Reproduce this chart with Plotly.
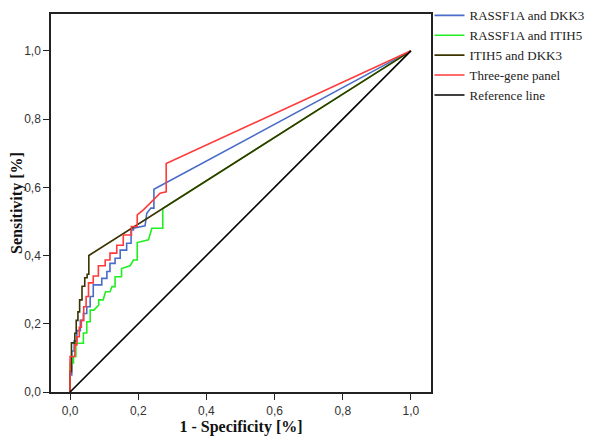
import plotly.graph_objects as go

# ROC curve vertices (1 - specificity, sensitivity)
rassf1a_dkk3_fpr = [0, 0, 0.005, 0.005, 0.012, 0.012, 0.02, 0.02, 0.03, 0.03, 0.039, 0.039, 0.049, 0.049,
                    0.059, 0.059, 0.068, 0.068, 0.093, 0.093, 0.108, 0.108, 0.117, 0.117, 0.132, 0.132,
                    0.147, 0.147, 0.166, 0.166, 0.179, 0.179, 0.186, 0.186, 0.22, 0.225, 0.237, 0.246, 0.246, 1.0]
rassf1a_dkk3_tpr = [0, 0.05, 0.05, 0.12, 0.12, 0.15, 0.15, 0.18, 0.18, 0.21, 0.21, 0.23, 0.23, 0.25,
                    0.25, 0.28, 0.28, 0.314, 0.314, 0.333, 0.333, 0.353, 0.353, 0.377, 0.377, 0.392,
                    0.392, 0.416, 0.416, 0.436, 0.436, 0.475, 0.475, 0.48, 0.487, 0.524, 0.539, 0.539, 0.594, 1.0]

rassf1a_itih5_fpr = [0, 0, 0.01, 0.01, 0.017, 0.017, 0.039, 0.039, 0.049, 0.049, 0.059, 0.059, 0.07, 0.084,
                     0.084, 0.097, 0.104, 0.117, 0.123, 0.132, 0.132, 0.151, 0.151, 0.176, 0.186, 0.197,
                     0.197, 0.23, 0.24, 0.272, 0.272, 1.0]
rassf1a_itih5_tpr = [0, 0.085, 0.085, 0.104, 0.104, 0.143, 0.143, 0.173, 0.173, 0.206, 0.206, 0.24, 0.24, 0.255,
                     0.27, 0.27, 0.294, 0.294, 0.309, 0.309, 0.338, 0.338, 0.362, 0.37, 0.387, 0.387,
                     0.438, 0.446, 0.48, 0.48, 0.538, 1.0]

itih5_dkk3_fpr = [0, 0, 0.004, 0.004, 0.014, 0.014, 0.018, 0.018, 0.023, 0.023, 0.028, 0.028,
                  0.035, 0.035, 0.043, 0.043, 0.05, 0.05, 0.055, 0.055, 1.0]
itih5_dkk3_tpr = [0, 0.06, 0.06, 0.144, 0.144, 0.172, 0.172, 0.21, 0.21, 0.235, 0.235, 0.27,
                  0.27, 0.31, 0.31, 0.335, 0.335, 0.345, 0.345, 0.40, 1.0]

three_gene_fpr = [0, 0, 0.014, 0.014, 0.02, 0.02, 0.027, 0.027, 0.033, 0.033, 0.04, 0.04, 0.047, 0.047,
                  0.054, 0.054, 0.068, 0.068, 0.083, 0.083, 0.103, 0.103, 0.117, 0.117, 0.137, 0.137,
                  0.156, 0.156, 0.18, 0.18, 0.197, 0.197, 0.215, 0.244, 0.264, 0.282, 0.282, 1.0]
three_gene_tpr = [0, 0.104, 0.104, 0.138, 0.138, 0.162, 0.162, 0.19, 0.19, 0.21, 0.21, 0.25, 0.25, 0.28,
                  0.28, 0.32, 0.32, 0.34, 0.34, 0.37, 0.37, 0.387, 0.387, 0.407, 0.407, 0.43,
                  0.43, 0.46, 0.46, 0.485, 0.485, 0.519, 0.534, 0.563, 0.583, 0.587, 0.67, 1.0]

reference_fpr = [0, 1]
reference_tpr = [0, 1]

series_names = ["RASSF1A and DKK3", "RASSF1A and ITIH5", "ITIH5 and DKK3", "Three-gene panel", "Reference line"]
series_colors = ["#4a6cc8", "#22ee22", "#3a3300", "#ff3a3a", "#000000"]

tick_vals = [0, 0.2, 0.4, 0.6, 0.8, 1.0]
tick_text = ["0,0", "0,2", "0,4", "0,6", "0,8", "1,0"]

x_title = "1 - Specificity [%]"
y_title = "Sensitivity [%]"

fig = go.Figure()
data = [
    (rassf1a_dkk3_fpr, rassf1a_dkk3_tpr),
    (rassf1a_itih5_fpr, rassf1a_itih5_tpr),
    (itih5_dkk3_fpr, itih5_dkk3_tpr),
    (three_gene_fpr, three_gene_tpr),
    (reference_fpr, reference_tpr),
]
for (xs, ys), name, color in zip(data, series_names, series_colors):
    fig.add_trace(go.Scatter(x=xs, y=ys, mode="lines", name=name,
                             line=dict(color=color, width=1.6)))

axis_common = dict(
    showgrid=False, zeroline=False, showline=True, linecolor="#222222", linewidth=1.5,
    mirror=True, ticks="outside", ticklen=6, tickcolor="#222222", tickwidth=1,
    tickvals=tick_vals, ticktext=tick_text, automargin=False,
    tickfont=dict(family="Liberation Sans, Arial", size=12, color="#333333"),
)

title_font = dict(family="Liberation Serif, Times New Roman", size=16, color="#111111")

fig.update_layout(
    width=600, height=443,
    margin=dict(l=51, r=169, t=14, b=51, autoexpand=False),
    paper_bgcolor="white", plot_bgcolor="white",
    showlegend=True,
    legend=dict(x=0.996, y=1.036, xanchor="left", yanchor="top",
                font=dict(family="Liberation Serif, Times New Roman", size=13, color="#222222"),
                tracegroupgap=0, itemwidth=30, bgcolor="rgba(0,0,0,0)"),
    xaxis=dict(range=[-0.056, 1.059], ticklabelstandoff=1,
               title=dict(text="<b>" + x_title + "</b>", standoff=0, font=title_font),
               **axis_common),
    yaxis=dict(range=[0, 1.108], **axis_common),
    annotations=[dict(text="<b>" + y_title + "</b>", xref="paper", yref="paper",
                      x=-0.0895, y=0.5, xanchor="center", yanchor="middle",
                      textangle=-90, showarrow=False, font=title_font)],
)

fig.write_html("out.html", config={"displayModeBar": False},
               post_script="document.body.style.margin='0';document.body.style.padding='0';")
